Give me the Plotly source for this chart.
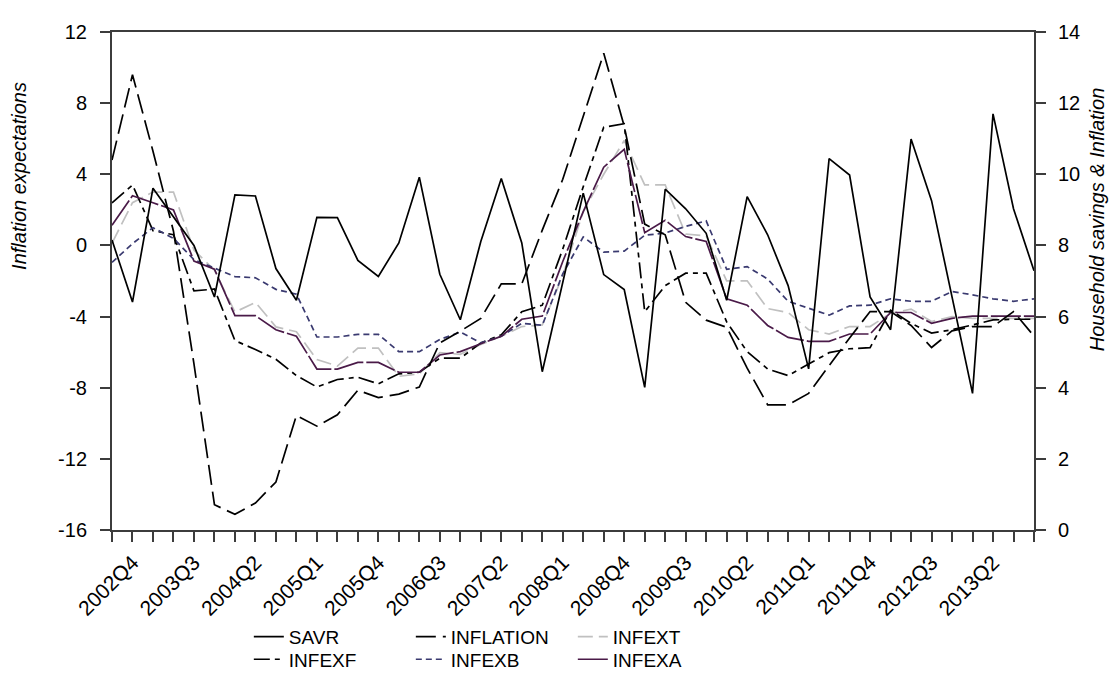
import plotly.graph_objects as go

# ---- categories (quarters 2002Q3 .. 2013Q4) ----
years = list(range(2002, 2014))
quarters = [f"{y}Q{q}" for y in years for q in range(1, 5)][2:]  # start at 2002Q3
label_every = 3  # labels at 2002Q4, 2003Q3, ...

# ---- right axis series (Household savings & Inflation, %) ----
savr = [8.15, 6.41, 9.61, 8.80, 8.00, 6.55, 9.42, 9.39, 7.35, 6.46,
        8.79, 8.78, 7.58, 7.13, 8.07, 9.92, 7.19, 5.91, 8.11, 9.88,
        8.07, 4.45, 7.00, 9.47, 7.18, 6.76, 4.01, 9.58, 9.03, 8.34,
        6.46, 9.37, 8.30, 6.87, 4.53, 10.44, 9.98, 6.55, 5.63, 10.99,
        9.26, 6.50, 3.84, 11.70, 9.03, 7.29]
inflation = [10.40, 12.80, 10.65, 8.40, 4.67, 0.71, 0.44, 0.76, 1.35, 3.22,
             2.92, 3.24, 3.93, 3.72, 3.82, 4.02, 5.26, 5.59, 5.95, 6.92,
             6.92, 8.43, 9.86, 11.60, 13.40, 11.35, 8.60, 8.30, 6.40, 5.90,
             5.70, 4.55, 3.52, 3.52, 3.84, 4.62, 5.40, 6.14, 6.14, 5.75,
             5.13, 5.60, 5.72, 5.72, 6.14, 5.45]

# ---- left axis series (Inflation expectations) ----
infext = [0.13, 2.40, 3.00, 3.00, -0.26, -1.39, -3.75, -3.20, -4.58, -4.85,
          -6.42, -6.78, -5.77, -5.77, -7.36, -7.22, -6.03, -6.12, -5.57, -5.11,
          -4.56, -4.47, -1.70, 1.90, 4.00, 5.90, 3.40, 3.40, 0.64, 0.53,
          -1.99, -1.99, -3.55, -3.77, -4.74, -4.98, -4.56, -4.56, -3.82, -3.58,
          -4.28, -4.00, -4.10, -4.10, -4.10, -4.10]
infexf = [2.39, 3.40, 0.83, 0.60, -2.56, -2.45, -5.35, -5.85, -6.40, -7.32,
          -7.96, -7.54, -7.41, -7.78, -7.22, -7.13, -6.34, -6.34, -5.48, -5.02,
          -3.73, -3.36, -0.20, 3.30, 6.65, 6.84, -3.73, -2.26, -1.56, -1.56,
          -4.30, -5.97, -6.95, -7.32, -6.67, -6.03, -5.81, -5.75, -3.64, -4.38,
          -4.93, -4.74, -4.47, -4.19, -4.15, -4.15]
infexb = [-0.95, 0.10, 1.00, 0.40, -0.80, -1.27, -1.75, -1.82, -2.47, -2.74,
          -5.15, -5.15, -5.00, -5.00, -5.97, -5.97, -5.29, -4.87, -5.48, -5.11,
          -4.38, -4.49, -1.60, 0.48, -0.38, -0.32, 0.57, 0.70, 1.07, 1.38,
          -1.34, -1.19, -1.89, -3.14, -3.55, -3.92, -3.40, -3.36, -3.00, -3.14,
          -3.14, -2.59, -2.78, -3.00, -3.14, -3.00]
infexa = [1.14, 2.79, 2.40, 2.00, -0.88, -1.34, -3.95, -3.95, -4.74, -5.11,
          -6.95, -6.95, -6.58, -6.58, -7.13, -7.13, -6.16, -5.97, -5.53, -5.11,
          -4.15, -3.97, -0.90, 1.90, 4.40, 5.40, 0.72, 1.42, 0.50, 0.22,
          -3.00, -3.36, -4.50, -5.17, -5.39, -5.39, -4.98, -4.98, -3.77, -3.77,
          -4.38, -4.10, -3.97, -3.97, -3.97, -3.97]

left_ticks = [-16, -12, -8, -4, 0, 4, 8, 12]
right_ticks = [0, 2, 4, 6, 8, 10, 12, 14]

FONT = "Liberation Sans, Arial, sans-serif"
AX = "#3c3c3c"

fig = go.Figure()

def add(name, y, color, dash, axis, legend, width=1.7):
    fig.add_trace(go.Scatter(
        x=quarters, y=y, name=name, mode="lines",
        line=dict(color=color, width=width, dash=dash),
        yaxis=axis, legend=legend,
    ))

add("SAVR", savr, "#000000", "solid", "y2", "legend")
add("INFLATION", inflation, "#000000", "20px,7px", "y2", "legend")
add("INFEXT", infext, "#c0c0c0", "15px,6px", "y", "legend")
add("INFEXF", infexf, "#000000", "16px,5px,5px,5px", "y", "legend2")
add("INFEXB", infexb, "#3a3a70", "6px,4px", "y", "legend2")
add("INFEXA", infexa, "#4a1a48", "30px,3px", "y", "legend2")

ticktext = [q if (i % label_every) == 1 else "" for i, q in enumerate(quarters)]

legend_common = dict(
    orientation="h", xanchor="left", yanchor="middle",
    font=dict(family=FONT, size=19, color="#000000"),
    bgcolor="rgba(0,0,0,0)", entrywidth=117, entrywidthmode="pixels",
    itemwidth=30, tracegroupgap=0,
)

title_font = dict(family=FONT, size=20, color="#000000")

fig.update_layout(
    width=1117, height=682,
    margin=dict(l=104, r=91, t=24, b=150),
    paper_bgcolor="white", plot_bgcolor="white",
    font=dict(family=FONT, size=19, color="#000000"),
    showlegend=True,
    legend=dict(x=0.1484, y=-0.2146, **legend_common),
    legend2=dict(x=0.1484, y=-0.2598, **legend_common),
    xaxis=dict(
        type="category", range=[0, len(quarters) - 1],
        tickmode="array", tickvals=quarters, ticktext=ticktext,
        tickangle=-45, ticks="outside", ticklen=10, tickwidth=1.5, tickcolor=AX,
        showline=True, linecolor=AX, linewidth=2, mirror=True,
        showgrid=False, zeroline=False,
        tickfont=dict(family=FONT, size=21, color="#000000"),
    ),
    yaxis=dict(
        range=[-16, 12], tickmode="array", tickvals=left_ticks,
        ticktext=[str(v) for v in left_ticks],
        ticks="outside", ticklen=10, tickwidth=1.5, tickcolor=AX,
        showline=True, linecolor=AX, linewidth=2,
        showgrid=False, zeroline=False, ticklabelstandoff=9,
        tickfont=dict(family=FONT, size=20, color="#000000"),
    ),
    yaxis2=dict(
        range=[0, 14], tickmode="array", tickvals=right_ticks,
        ticktext=[str(v) for v in right_ticks],
        overlaying="y", side="right",
        ticks="outside", ticklen=10, tickwidth=1.5, tickcolor=AX,
        showline=True, linecolor=AX, linewidth=2,
        showgrid=False, zeroline=False, ticklabelstandoff=8,
        tickfont=dict(family=FONT, size=20, color="#000000"),
    ),
    annotations=[
        dict(text="<i>Inflation expectations</i>", xref="paper", yref="paper",
             x=0, y=0.711, xshift=-93, xanchor="center", yanchor="middle",
             textangle=-90, showarrow=False, font=title_font),
        dict(text="<i>Household savings & Inflation</i>", xref="paper", yref="paper",
             x=1, y=0.624, xshift=63, xanchor="center", yanchor="middle",
             textangle=-90, showarrow=False, font=title_font),
    ],
)

fig.write_html("out.html")
